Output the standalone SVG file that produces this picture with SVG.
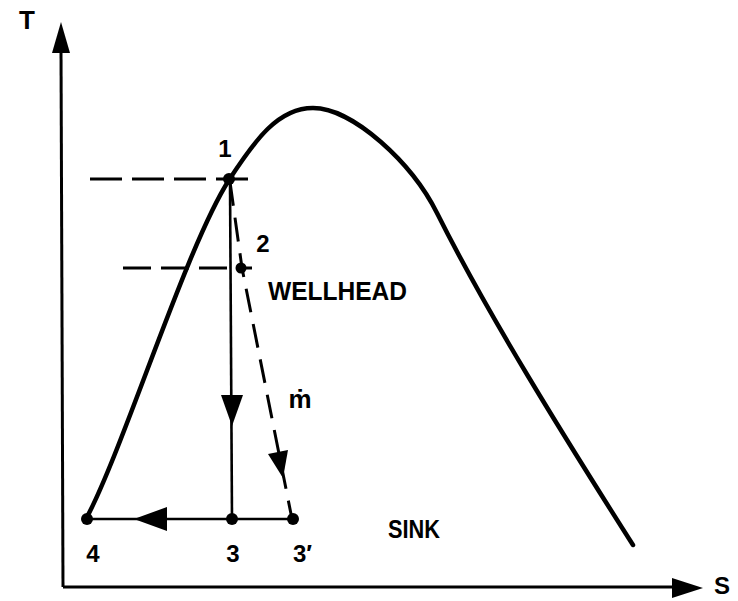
<svg xmlns="http://www.w3.org/2000/svg" width="738" height="601" viewBox="0 0 738 601">
<style>
  .ax { stroke:#000; stroke-width:3; fill:none; }
  .curve { stroke:#000; stroke-width:4.5; fill:none; stroke-linecap:round; stroke-linejoin:round; }
  .solid { stroke:#000; stroke-width:2.6; fill:none; }
  .dash { stroke:#000; stroke-width:3; fill:none; stroke-dasharray:32 10; }
  .dash2 { stroke:#000; stroke-width:3; fill:none; stroke-dasharray:24 12; }
  .head { fill:#000; stroke:none; }
  .dot { fill:#000; }
  text { font-family:"Liberation Sans", Arial, sans-serif; font-weight:bold; fill:#000; }
  .lbl { font-size:24px; text-anchor:middle; }
  .word { font-size:25px; }
</style>
<rect width="738" height="601" fill="#fff"/>

<g id="axes">
  <line class="ax" x1="61" y1="50" x2="63" y2="587"/>
  <polygon class="head" points="61,22 52,53 70,53"/>
  <line class="ax" x1="63" y1="587" x2="675" y2="587"/>
  <polygon class="head" points="703,588 672,578 672,598"/>
  <text x="27" y="29" class="lbl" style="font-size:26px">T</text>
  <text x="722" y="594" class="lbl" style="font-size:24px">S</text>
</g>

<g id="saturation-dome">
  <path class="curve" d="M87,517 C124,447 186,247 229,180 C255,140 278,108 313,108 C353,108 412,163 437,213 C487,313 563,435 633,545"/>
</g>

<g id="connectors">
  <line class="dash" x1="90" y1="179" x2="248" y2="179"/>
  <line class="dash" x1="123" y1="268" x2="252" y2="268" style="stroke-dasharray:28 10"/>
  <line class="solid" x1="230" y1="180" x2="232" y2="519"/>
  <polygon class="head" points="221,395 243,395 232,426"/>
  <path class="dash2" d="M230,182 L242,268 L292,519"/>
  <polygon class="head" points="283,478 288,450 268,454"/>
  <line class="solid" x1="87" y1="519" x2="293" y2="519"/>
  <polygon class="head" points="134,519 167,507 167,531"/>
</g>

<g id="node-1">
  <circle class="dot" cx="229" cy="179" r="6"/>
  <text x="225" y="157" class="lbl">1</text>
</g>
<g id="node-2">
  <circle class="dot" cx="241" cy="268" r="5.5"/>
  <text x="263" y="252" class="lbl">2</text>
</g>
<g id="node-3">
  <circle class="dot" cx="232" cy="519" r="6"/>
  <text x="233" y="562" class="lbl">3</text>
</g>
<g id="node-3prime">
  <circle class="dot" cx="293" cy="519" r="6"/>
  <text x="293" y="562" style="font-size:24px">3′</text>
</g>
<g id="node-4">
  <circle class="dot" cx="87" cy="519" r="6"/>
  <text x="93" y="562" class="lbl">4</text>
</g>

<g id="labels">
  <text x="268" y="300" class="word" textLength="139" lengthAdjust="spacingAndGlyphs">WELLHEAD</text>
  <text x="388" y="538" class="word" textLength="52" lengthAdjust="spacingAndGlyphs">SINK</text>
  <text x="300" y="408" class="lbl" style="font-size:26px">ṁ</text>
</g>
</svg>
